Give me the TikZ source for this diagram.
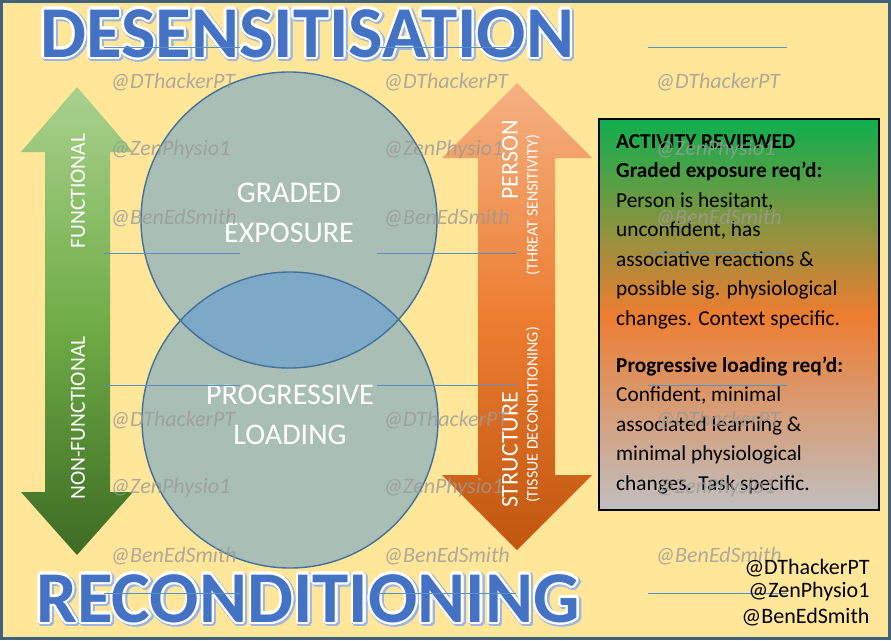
\documentclass[tikz,border=0pt]{standalone}
\usepackage{fontspec}
\setmainfont{Carlito}
\usepackage[copies]{contour}
\definecolor{paper}{HTML}{FFE699}
\definecolor{frameblue}{HTML}{41607E}
\definecolor{titleblue}{HTML}{4472C4}
\definecolor{titleglow}{HTML}{9DB5E0}
\definecolor{disc}{HTML}{A9BFB5}
\definecolor{overlap}{HTML}{7DA8C6}
\definecolor{discedge}{HTML}{41719C}
\definecolor{guide}{HTML}{5B8FC8}
\definecolor{wmgrey}{HTML}{9A9A9A}
\definecolor{greenlight}{HTML}{A9D18E}
\definecolor{greenmid}{HTML}{70AD47}
\definecolor{greendark}{HTML}{3D6B23}
\definecolor{orangelight}{HTML}{F4B183}
\definecolor{orangemid}{HTML}{ED7D31}
\definecolor{orangedark}{HTML}{C0560F}
\definecolor{boxtop}{HTML}{0EAF4E}
\definecolor{boxmid}{HTML}{ED7D31}
\definecolor{boxbottom}{HTML}{BFBFBF}
\tikzset{
  headline/.style={anchor=base, font=\fontsize{73}{73}\selectfont\bfseries},
  disclabel/.style={align=center, text=white, font=\fontsize{30}{40}\selectfont},
  sidelabel/.style={rotate=90, text=white, font=\fontsize{#1}{#1}\selectfont},
  wmark/.style={anchor=west, text=wmgrey, text opacity=0.8, font=\fontsize{22}{22}\selectfont\itshape},
  credit/.style={anchor=east, font=\fontsize{22}{22}\selectfont},
}

\begin{document}
\begin{tikzpicture}[x=1pt, y=-1pt]
			\useasboundingbox (0,0) rectangle (891,640);
			\fill[paper] (0,0) rectangle (891,640);
			\shade[top color=greenlight, bottom color=greendark, middle color=greenmid]
			(77,87) -- (133,152) -- (110,152) -- (110,492) -- (133,492) -- (77,555) -- (21,492) -- (45,492) -- (45,152) -- (21,152) -- cycle;
			\shade[top color=orangelight, bottom color=orangedark, middle color=orangemid]
			(517,83) -- (592,158) -- (555,158) -- (555,475) -- (592,475) -- (517,550) -- (442,475) -- (478,475) -- (478,158) -- (442,158) -- cycle;
			\fill[disc] (289,220) circle[radius=148];
			\fill[disc] (290,420) circle[radius=148];
			\begin{scope}
				\clip (289,220) circle[radius=148];
				\fill[overlap] (290,420) circle[radius=148];
			\end{scope}
			\draw[discedge, line width=1.4] (289,220) circle[radius=148] (290,420) circle[radius=148];
			\node (graded) [disclabel] at (289,213) {GRADED\\EXPOSURE};
			\node (progressive) [disclabel] at (290,415) {PROGRESSIVE\\LOADING};
			\node (functional) [sidelabel=21.5] at (78,191) {FUNCTIONAL};
			\node (nonfunctional) [sidelabel=21.5] at (78,418) {NON-FUNCTIONAL};
			\node (person) [sidelabel=24] at (510,160) {PERSON};
			\node (threat) [sidelabel=16] at (533,205) {(THREAT SENSITIVITY)};
			\node (structure) [sidelabel=24] at (510,450) {STRUCTURE};
			\node (tissue) [sidelabel=16] at (533,415) {(TISSUE DECONDITIONING)};
			\draw[line width=2, top color=boxtop, bottom color=boxbottom, middle color=boxmid] (599,119) rectangle (879,510);
			\node (reviewed) [anchor=north west, inner sep=0pt, align=left, font=\fontsize{21.3}{29.5}\selectfont] at (616,134)
			{\textbf{ACTIVITY REVIEWED}\\ \textbf{Graded exposure req’d:}\\ Person is hesitant,\\ unconfident, has\\ associative reactions \&\\ possible sig. physiological\\ changes. Context specific.\\[17.5pt]
			\textbf{Progressive loading req’d:}\\ Confident, minimal\\ associated learning \&\\ minimal physiological\\ changes. Task specific.};
			\node[headline, text=titleglow] at (308.5,58.5) {\contourlength{3pt}\contour{titleglow}{DESENSITISATION}};
			\node (desens) [headline, text=titleblue] at (307,57) {\contourlength{2.2pt}\contour{white}{DESENSITISATION}};
			\node[headline, text=titleglow] at (309.5,623.5) {\contourlength{3pt}\contour{titleglow}{RECONDITIONING}};
			\node (recond) [headline, text=titleblue] at (308,622) {\contourlength{2.2pt}\contour{white}{RECONDITIONING}};
			\foreach \col in {107,380,652}
			\foreach \row/\handle in {82/DThackerPT,150/ZenPhysio1,218/BenEdSmith,420/DThackerPT,488/ZenPhysio1,556/BenEdSmith}
			\node (wm-\col-\row) [wmark] at (\col,\row) {@\handle};
			\foreach \row in {47,253,385,593}
			\foreach \from/\to in {104/240,377/516,648/787}
			\draw[guide, line width=1] (\from,\row) -- (\to,\row);
			\node (credit1) [credit] at (873,568) {@DThackerPT};
			\node (credit2) [credit] at (873,592) {@ZenPhysio1};
			\node (credit3) [credit] at (873,617) {@BenEdSmith};
			\draw[frameblue, line width=3] (1.5,1.5) rectangle (889.5,638.5);
		\end{tikzpicture}
\end{document}
